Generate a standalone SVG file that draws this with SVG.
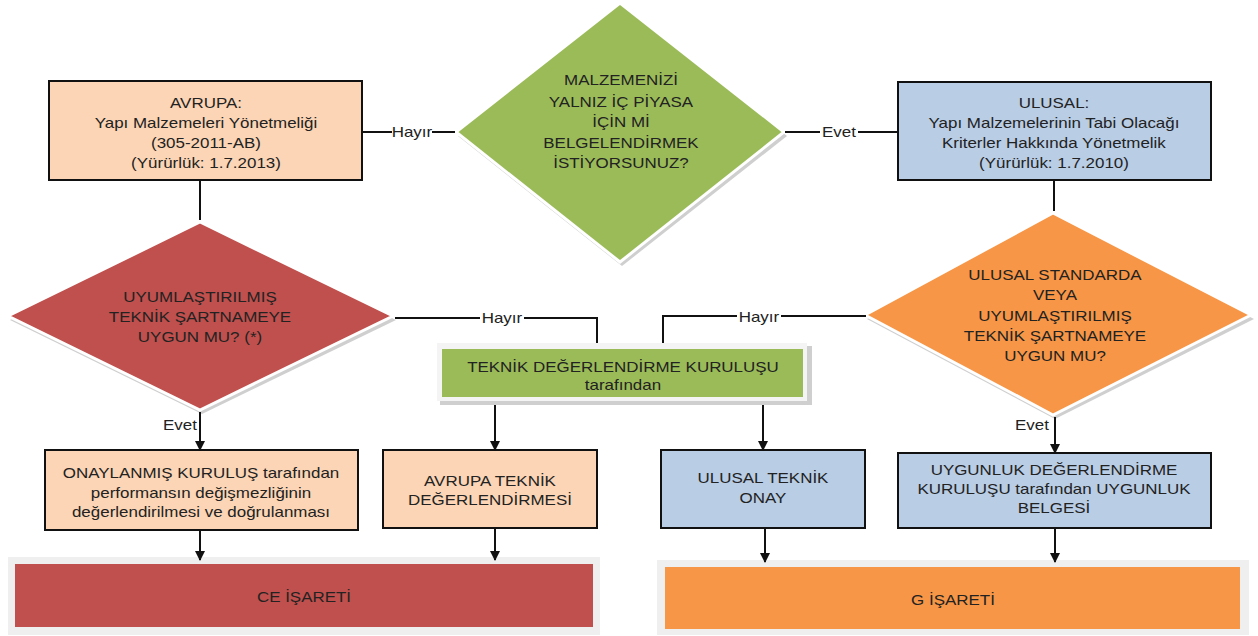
<svg xmlns="http://www.w3.org/2000/svg" width="1258" height="636" viewBox="0 0 1258 636">
<style>
text { font-family: "Liberation Sans", Arial, sans-serif; font-size: 15px; fill: #222; text-anchor: middle; transform-box: fill-box; transform-origin: center; transform: scaleX(1.13); }
.box { stroke: #111; stroke-width: 2; }
.peach { fill: #fbd5b5; }
.blue { fill: #b9cde5; }
.dia { stroke: #fff; stroke-width: 3; }
.shadow { fill: #cfcfcf; }
.conn { stroke: #111; stroke-width: 2; fill: none; }
.lbl { fill: #fff; }
</style>
<defs>
<marker id="arr" markerUnits="userSpaceOnUse" markerWidth="10" markerHeight="10" refX="9" refY="5" orient="auto">
<path d="M0,0 L10,5 L0,10 z" fill="#111"/>
</marker>
</defs>
<rect width="1258" height="636" fill="#fff"/>

<g id="avrupa">
<rect class="box peach" x="49" y="81" width="313" height="99"/>
<text x="206" y="108">AVRUPA:</text>
<text x="206" y="128">Yapı Malzemeleri Yönetmeliği</text>
<text x="206" y="148">(305-2011-AB)</text>
<text x="206" y="168">(Yürürlük: 1.7.2013)</text>
</g>

<g id="soru-ic-piyasa">
<polygon class="shadow" points="622,7 787,136 622,266 458,136"/>
<polygon class="dia" fill="#9bbb59" points="620,3 784,132 620,262 456,132"/>
<text x="621" y="85">MALZEMENİZİ</text>
<text x="621" y="107">YALNIZ İÇ PİYASA</text>
<text x="621" y="127">İÇİN Mİ</text>
<text x="621" y="148">BELGELENDİRMEK</text>
<text x="621" y="168">İSTİYORSUNUZ?</text>
</g>

<g id="ulusal">
<rect class="box blue" x="898" y="82" width="313" height="98"/>
<text x="1054" y="108">ULUSAL:</text>
<text x="1054" y="128">Yapı Malzemelerinin Tabi Olacağı</text>
<text x="1054" y="148">Kriterler Hakkında Yönetmelik</text>
<text x="1054" y="168">(Yürürlük: 1.7.2010)</text>
</g>

<g id="soru-uyumlastirilmis">
<polygon class="shadow" points="202,226 396,320 202,414 10,320"/>
<polygon class="dia" fill="#c0504d" points="200,222 393,316 200,410 8,316"/>
<text x="200" y="302">UYUMLAŞTIRILMIŞ</text>
<text x="200" y="322">TEKNİK ŞARTNAMEYE</text>
<text x="200" y="342">UYGUN MU? (*)</text>
</g>

<g id="soru-ulusal-standart">
<polygon class="shadow" points="1055,217 1254,319 1055,419 867,319"/>
<polygon class="dia" fill="#f79646" points="1053,213 1251,315 1053,415 865,315"/>
<text x="1055" y="280">ULUSAL STANDARDA</text>
<text x="1055" y="300">VEYA</text>
<text x="1055" y="321">UYUMLAŞTIRILMIŞ</text>
<text x="1055" y="341">TEKNİK ŞARTNAMEYE</text>
<text x="1055" y="361">UYGUN MU?</text>
</g>

<g id="teknik-degerlendirme">
<rect class="shadow" x="440" y="346" width="372" height="59"/>
<rect fill="#f4f4f4" x="437" y="343" width="370" height="58"/>
<rect fill="#9bbb59" x="442" y="349" width="361" height="48"/>
<text x="623" y="372">TEKNİK DEĞERLENDİRME KURULUŞU</text>
<text x="623" y="390">tarafından</text>
</g>

<g id="onaylanmis">
<rect class="box peach" x="45" y="450" width="313" height="80"/>
<text x="201" y="478">ONAYLANMIŞ KURULUŞ tarafından</text>
<text x="201" y="498">performansın değişmezliğinin</text>
<text x="201" y="517">değerlendirilmesi ve doğrulanması</text>
</g>

<g id="avrupa-teknik">
<rect class="box peach" x="383" y="450" width="214" height="78"/>
<text x="490" y="486">AVRUPA TEKNİK</text>
<text x="490" y="505">DEĞERLENDİRMESİ</text>
</g>

<g id="ulusal-teknik">
<rect class="box blue" x="661" y="450" width="204" height="78"/>
<text x="763" y="483">ULUSAL TEKNİK</text>
<text x="763" y="503">ONAY</text>
</g>

<g id="uygunluk">
<rect class="box blue" x="898" y="453" width="313" height="75"/>
<text x="1054" y="475">UYGUNLUK DEĞERLENDİRME</text>
<text x="1054" y="494">KURULUŞU tarafından UYGUNLUK</text>
<text x="1054" y="513">BELGESİ</text>
</g>

<g id="ce-isareti">
<rect fill="#efefef" x="8" y="557" width="592" height="78"/>
<rect fill="#c0504d" x="15" y="564" width="578" height="63"/>
<text x="304" y="602">CE İŞARETİ</text>
</g>

<g id="g-isareti">
<rect fill="#efefef" x="657" y="560" width="592" height="75"/>
<rect fill="#f79646" x="665" y="567" width="575" height="62"/>
<text x="953" y="605">G İŞARETİ</text>
</g>

<g id="connectors">
<line class="conn" x1="362" y1="132" x2="455" y2="132"/>
<line class="conn" x1="785" y1="132" x2="898" y2="132"/>
<line class="conn" x1="200" y1="180" x2="200" y2="220"/>
<line class="conn" x1="1054" y1="180" x2="1054" y2="211"/>
<polyline class="conn" points="395,318 597,318 597,343"/>
<polyline class="conn" points="866,316 663,316 663,343"/>
<line class="conn" x1="200" y1="412" x2="200" y2="450" marker-end="url(#arr)"/>
<line class="conn" x1="495" y1="405" x2="495" y2="450" marker-end="url(#arr)"/>
<line class="conn" x1="763" y1="405" x2="763" y2="450" marker-end="url(#arr)"/>
<line class="conn" x1="1055" y1="417" x2="1055" y2="453" marker-end="url(#arr)"/>
<line class="conn" x1="200" y1="530" x2="200" y2="560" marker-end="url(#arr)"/>
<line class="conn" x1="495" y1="528" x2="495" y2="560" marker-end="url(#arr)"/>
<line class="conn" x1="765" y1="528" x2="765" y2="562" marker-end="url(#arr)"/>
<line class="conn" x1="1055" y1="528" x2="1055" y2="562" marker-end="url(#arr)"/>
<rect class="lbl" x="392" y="124" width="40" height="16"/>
<text x="412" y="137">Hayır</text>
<rect class="lbl" x="820" y="124" width="38" height="16"/>
<text x="839" y="137">Evet</text>
<rect class="lbl" x="480" y="310" width="44" height="16"/>
<text x="502" y="323">Hayır</text>
<rect class="lbl" x="737" y="308" width="44" height="16"/>
<text x="759" y="322">Hayır</text>
<text x="180" y="430">Evet</text>
<text x="1032" y="430">Evet</text>
</g>
</svg>
